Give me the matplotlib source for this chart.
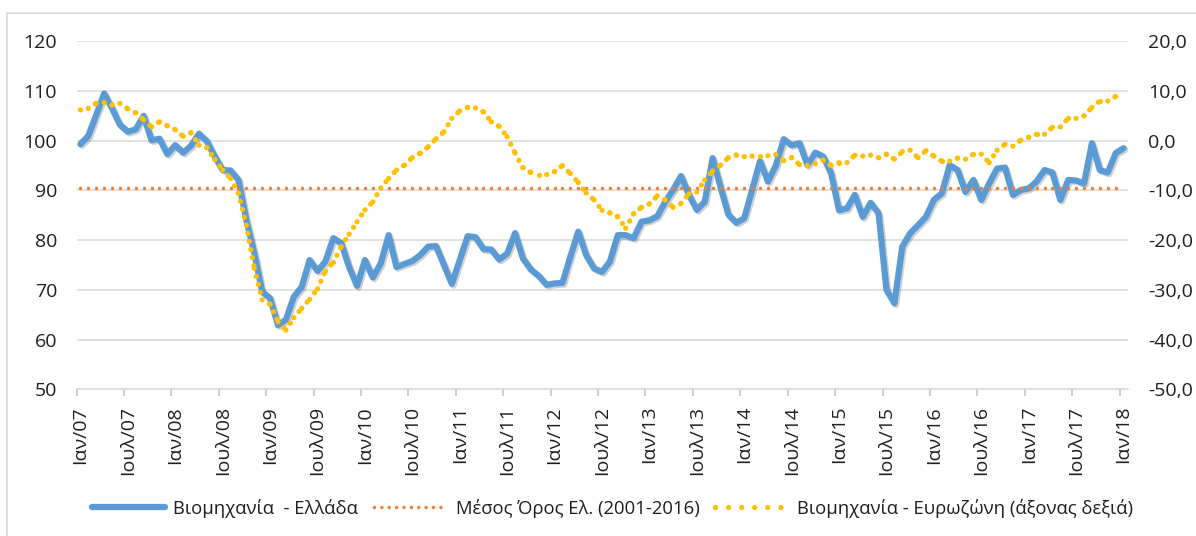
import matplotlib
matplotlib.use('Agg')
import matplotlib.pyplot as plt
import matplotlib.patheffects as pe
import numpy as np
from matplotlib.collections import LineCollection
from matplotlib.lines import Line2D
from matplotlib.patches import Rectangle

plt.rcParams['font.family'] = ['Open Sans', 'DejaVu Sans']
plt.rcParams['lines.scale_dashes'] = False

# monthly data Jan 2007 .. Jan 2018
greece = [99.3, 101.0, 105.2, 109.5, 106.5, 103.2, 101.8, 102.3, 105.0, 100.1,
          100.4, 97.3, 99.1, 97.6, 99.0, 101.4, 99.9, 96.8, 94.1, 94.0,
          92.1, 84.0, 77.4, 69.6, 68.3, 62.9, 64.0, 68.6, 70.6, 76.0,
          73.8, 75.7, 80.4, 79.4, 74.6, 70.8, 76.0, 72.5, 75.3, 81.0,
          74.6, 75.2, 75.8, 77.0, 78.7, 78.8, 75.0, 71.2, 76.0, 80.8,
          80.6, 78.2, 78.1, 76.1, 77.3, 81.4, 76.3, 74.1, 72.8, 71.0,
          71.3, 71.4, 76.7, 81.7, 77.0, 74.3, 73.6, 75.7, 81.0, 81.0,
          80.4, 83.7, 84.0, 84.8, 87.7, 90.1, 92.9, 89.1, 86.1, 87.7,
          96.5, 90.7, 85.1, 83.5, 84.4, 90.1, 95.9, 91.8, 95.0, 100.3,
          99.1, 99.5, 95.1, 97.6, 96.8, 93.4, 86.0, 86.4, 89.1, 84.7,
          87.5, 85.4, 70.0, 67.3, 78.7, 81.4, 83.0, 84.7, 88.1, 89.4,
          95.1, 94.1, 89.7, 92.1, 88.1, 91.4, 94.4, 94.6, 89.1, 90.1,
          90.4, 91.8, 94.1, 93.6, 88.1, 92.1, 92.0, 91.4, 99.5, 94.1,
          93.6, 97.5, 98.5]
eurozone = [6.2, 6.5, 7.5, 7.7, 7.2, 7.5, 6.4, 5.6, 4.2, 2.8,
            3.8, 3.0, 2.2, 0.9, 1.6, -0.9, -1.4, -3.8, -5.9, -7.6,
            -10.6, -17.0, -25.7, -32.0, -32.9, -36.4, -38.1, -35.6, -33.7, -31.9,
            -29.8, -26.2, -24.5, -21.3, -18.8, -16.3, -13.9, -12.3, -9.5, -7.6,
            -5.9, -4.9, -3.4, -2.5, -1.2, 0.4, 1.8, 4.5, 6.0, 6.7,
            6.6, 5.8, 3.8, 2.9, 0.8, -2.5, -5.4, -6.4, -6.8, -6.8,
            -6.2, -5.0, -6.6, -8.4, -10.5, -11.9, -14.0, -14.5, -15.3, -17.6,
            -14.7, -13.4, -12.7, -11.1, -11.9, -13.4, -12.6, -10.7, -10.3, -7.9,
            -6.1, -4.9, -3.4, -2.9, -3.2, -3.1, -3.0, -3.0, -2.8, -4.0,
            -3.4, -4.8, -5.0, -4.6, -3.9, -5.0, -4.4, -4.4, -2.9, -3.1,
            -2.9, -3.4, -2.7, -3.7, -2.2, -1.9, -3.4, -2.0, -3.1, -4.1,
            -4.1, -3.5, -3.7, -2.7, -2.7, -4.4, -1.9, -0.7, -1.1, 0.1,
            0.7, 1.3, 1.3, 2.7, 2.8, 4.5, 4.5, 5.0, 6.7, 8.0,
            8.0, 8.9, 9.2]
greece_avg = 90.5
tick_labels = ['Ιαν/07', 'Ιουλ/07', 'Ιαν/08', 'Ιουλ/08', 'Ιαν/09', 'Ιουλ/09',
               'Ιαν/10', 'Ιουλ/10', 'Ιαν/11', 'Ιουλ/11', 'Ιαν/12', 'Ιουλ/12',
               'Ιαν/13', 'Ιουλ/13', 'Ιαν/14', 'Ιουλ/14', 'Ιαν/15', 'Ιουλ/15',
               'Ιαν/16', 'Ιουλ/16', 'Ιαν/17', 'Ιουλ/17', 'Ιαν/18']
legend_labels = ['Βιομηχανία  - Ελλάδα', 'Μέσος Όρος Ελ. (2001-2016)',
                 'Βιομηχανία - Ευρωζώνη (άξονας δεξιά)']

BLUE, ORANGE, YELLOW = '#5B9BD5', '#ED7D31', '#FFC000'
GRID = '#D9D9D9'
TXT = '#1f1f1f'

months = np.arange(len(greece))


def segments(x, y):
    # one path per month so the dot pattern restarts at every point (Excel style)
    pts = np.column_stack([x, y])
    return np.stack([pts[:-1], pts[1:]], axis=1)


fig = plt.figure(figsize=(11.96, 5.36), dpi=100)
fig.patches.append(Rectangle((6.5 / 1196, -0.2), 1.2, 1.2 - 12.5 / 536,
                             transform=fig.transFigure, fill=False,
                             edgecolor=GRID, lw=1.2))

ax = fig.add_axes([76.5 / 1196, 146.7 / 536, 1051 / 1196, 348 / 536])
ax.set_xlim(-0.5, 132.5)
ax.set_ylim(50, 120)
ax.set_yticks(range(50, 121, 10))
ax.grid(axis='y', color=GRID, lw=1.1)
ax.set_axisbelow(True)
for s in ['top', 'left', 'right']:
    ax.spines[s].set_visible(False)
ax.spines['bottom'].set_color(GRID)
ax.spines['bottom'].set_linewidth(1.1)

ax.plot(months, greece, color=BLUE, lw=4.5, solid_joinstyle='round',
        solid_capstyle='round', zorder=3,
        path_effects=[pe.SimpleLineShadow(offset=(1.2, -1.2), shadow_color='k', alpha=0.18),
                      pe.Normal()])
avg = np.full(len(months), greece_avg)
ax.add_collection(LineCollection(segments(months, avg), colors=ORANGE, linewidths=2.5,
                                 linestyles=[(0, (0.01, 8.5))], capstyle='round', zorder=4))

ax.set_xticks(months[::6])
ax.set_xticklabels(tick_labels, rotation=90, fontsize=14, color=TXT)
ax.set_xticks(np.arange(-0.5, 132, 6), minor=True)
ax.tick_params(axis='x', which='major', length=0, pad=12)
ax.tick_params(axis='x', which='minor', length=5, width=1.1, color='#BFBFBF')
ax.tick_params(axis='y', length=0, pad=14, labelsize=14, labelcolor=TXT)

ax2 = ax.twinx()
ax2.set_ylim(-50, 20)
ax2.set_yticks(range(-50, 21, 10))
ax2.set_yticklabels([f'{v:.1f}'.replace('.', ',') for v in range(-50, 21, 10)])
ax2.tick_params(axis='y', length=0, pad=15, labelsize=14, labelcolor=TXT)
for s in ax2.spines.values():
    s.set_visible(False)
ax2.add_collection(LineCollection(segments(months, eurozone), colors=YELLOW, linewidths=3.8,
                                  linestyles=[(0, (0.01, 5.9))], capstyle='round', zorder=5))

handles = [
    Line2D([], [], color=BLUE, lw=4.5, solid_capstyle='round'),
    Line2D([], [], color=ORANGE, lw=2.5, linestyle=(0, (0.01, 5.3)), dash_capstyle='round'),
    Line2D([], [], color=YELLOW, lw=3.8, linestyle=(0, (0.01, 9.4)), dash_capstyle='round'),
]
fig.legend(handles, legend_labels, loc='center', bbox_to_anchor=(0.512, 0.052), ncol=3,
           frameon=False, fontsize=13.3, handlelength=3.95, handletextpad=0.48,
           columnspacing=0.85, labelcolor=TXT)

fig.savefig('out.png', dpi=100)
